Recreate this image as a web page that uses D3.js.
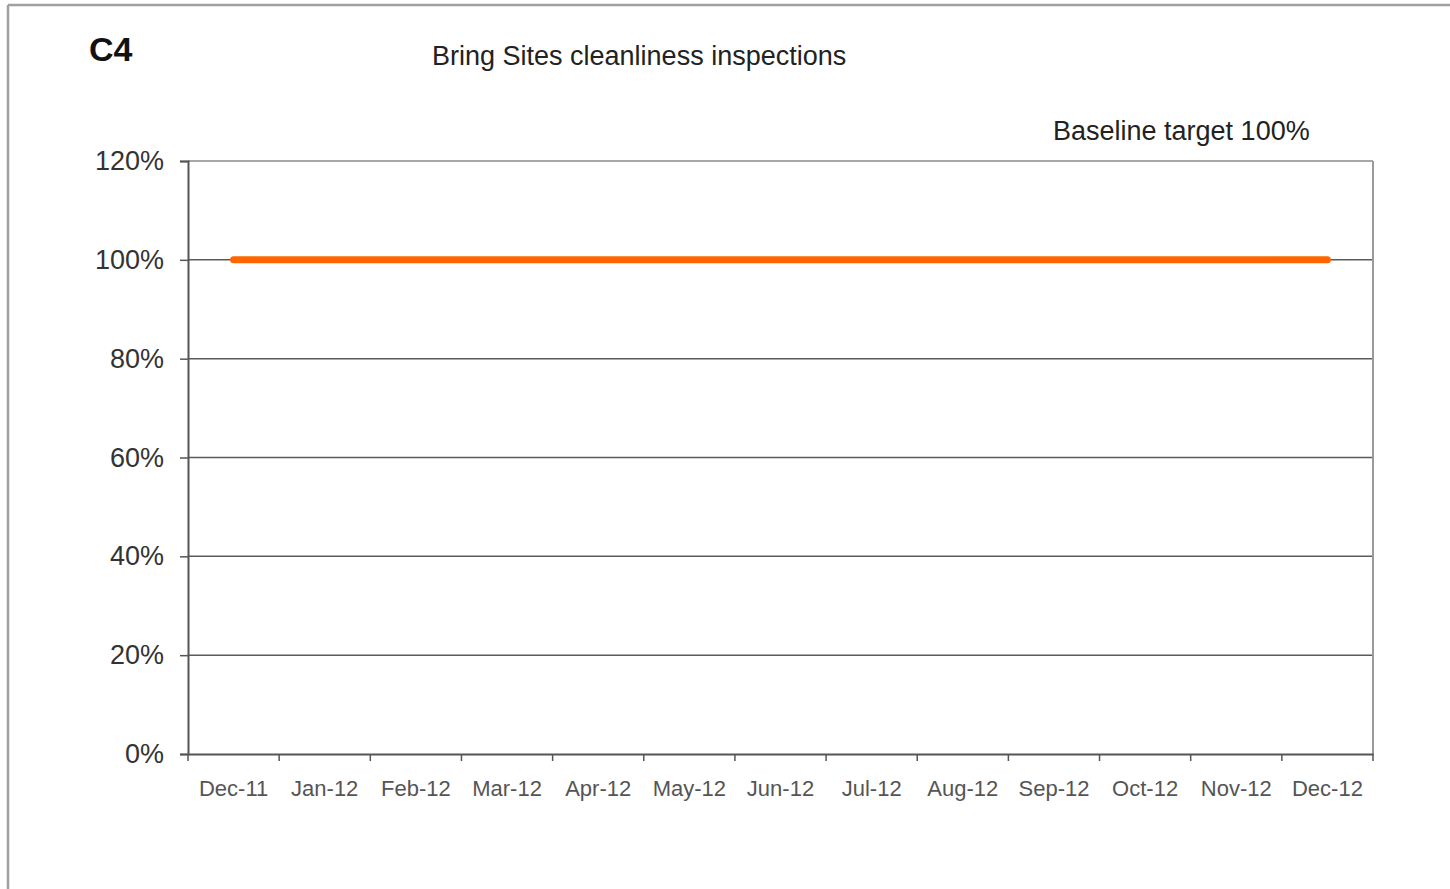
<!DOCTYPE html>
<html>
<head>
<meta charset="utf-8">
<script src="https://cdn.jsdelivr.net/npm/d3@7"></script>
<style>
  body { margin: 0; background: #fff; }
  svg { display: block; font-family: "Liberation Sans", Arial, sans-serif; }
</style>
</head>
<body>
<div id="chart"></div>
<script>
// chart data
var months = ["Dec-11", "Jan-12", "Feb-12", "Mar-12", "Apr-12", "May-12", "Jun-12",
              "Jul-12", "Aug-12", "Sep-12", "Oct-12", "Nov-12", "Dec-12"];
var targetValues = [1, 1, 1, 1, 1, 1, 1, 1, 1, 1, 1, 1, 1];
var yTicks = [0, 0.2, 0.4, 0.6, 0.8, 1.0, 1.2];

var width = 1450, height = 889;
var margin = { top: 161, right: 77, bottom: 135, left: 188 };

var svg = d3.select("#chart").append("svg")
  .attr("width", width)
  .attr("height", height);

// outer frame (only top and left edges show)
svg.append("line").attr("x1", 8).attr("y1", 5).attr("x2", width).attr("y2", 5)
  .attr("stroke", "#a0a0a0").attr("stroke-width", 2.5);
svg.append("line").attr("x1", 8).attr("y1", 5).attr("x2", 8).attr("y2", height)
  .attr("stroke", "#a0a0a0").attr("stroke-width", 2.5);

var x = d3.scaleBand()
  .domain(months)
  .range([margin.left, width - margin.right]);

var y = d3.scaleLinear()
  .domain([0, 1.2])
  .range([height - margin.bottom, margin.top]);

// gridlines
svg.append("g")
  .selectAll("line")
  .data(yTicks.filter(function(d) { return d > 0; }))
  .enter().append("line")
  .attr("x1", margin.left)
  .attr("x2", width - margin.right)
  .attr("y1", function(d) { return y(d); })
  .attr("y2", function(d) { return y(d); })
  .attr("stroke", function(d) { return d == 1.2 ? "#8a8a8a" : "#5a5a5a"; })
  .attr("stroke-width", 1.5);

// right border of plot
svg.append("line")
  .attr("x1", width - margin.right).attr("x2", width - margin.right)
  .attr("y1", margin.top).attr("y2", height - margin.bottom)
  .attr("stroke", "#9a9a9a").attr("stroke-width", 2);

// y axis
var yAxis = svg.append("g")
  .attr("transform", "translate(" + margin.left + ",0)")
  .call(d3.axisLeft(y).tickValues(yTicks).tickFormat(d3.format(".0%")).tickSizeOuter(0).tickSize(8).tickPadding(16));
yAxis.select(".domain").attr("stroke", "#555").attr("stroke-width", 2);
yAxis.selectAll(".tick line").attr("stroke", "#555").attr("stroke-width", 1.5);
yAxis.selectAll(".tick text")
  .attr("fill", "#333")
  .style("font-size", "27px")
  .style("font-family", "'Liberation Sans', Arial, sans-serif");

// x axis, ticks on band edges
var xAxis = svg.append("g")
  .attr("transform", "translate(0," + (height - margin.bottom) + ")")
  .call(d3.axisBottom(x).tickSize(0).tickPadding(26));
xAxis.select(".domain").attr("stroke", "#555").attr("stroke-width", 2);
xAxis.selectAll(".tick text")
  .attr("fill", "#555")
  .style("font-size", "22px")
  .style("font-family", "'Liberation Sans', Arial, sans-serif");

var edges = months.map(function(m) { return x(m); }).concat([x.range()[1]]);
svg.append("g").selectAll("line")
  .data(edges)
  .enter().append("line")
  .attr("x1", function(d) { return d; })
  .attr("x2", function(d) { return d; })
  .attr("y1", height - margin.bottom)
  .attr("y2", height - margin.bottom + 7)
  .attr("stroke", "#555")
  .attr("stroke-width", 1.5);

// target line
var line = d3.line()
  .x(function(d, i) { return x(months[i]) + x.bandwidth() / 2; })
  .y(function(d) { return y(d); });

svg.append("path")
  .datum(targetValues)
  .attr("d", line)
  .attr("fill", "none")
  .attr("stroke", "#ff6600")
  .attr("stroke-width", 7)
  .attr("stroke-linecap", "round");

// titles
svg.append("text")
  .attr("x", 89).attr("y", 61)
  .style("font-size", "34px").style("font-weight", "bold")
  .attr("fill", "#111")
  .text("C4");

svg.append("text")
  .attr("x", 432).attr("y", 65)
  .style("font-size", "27px")
  .attr("fill", "#222")
  .text("Bring Sites cleanliness inspections");

svg.append("text")
  .attr("x", 1053).attr("y", 140)
  .style("font-size", "27px")
  .attr("fill", "#222")
  .text("Baseline target 100%");
</script>
</body>
</html>
